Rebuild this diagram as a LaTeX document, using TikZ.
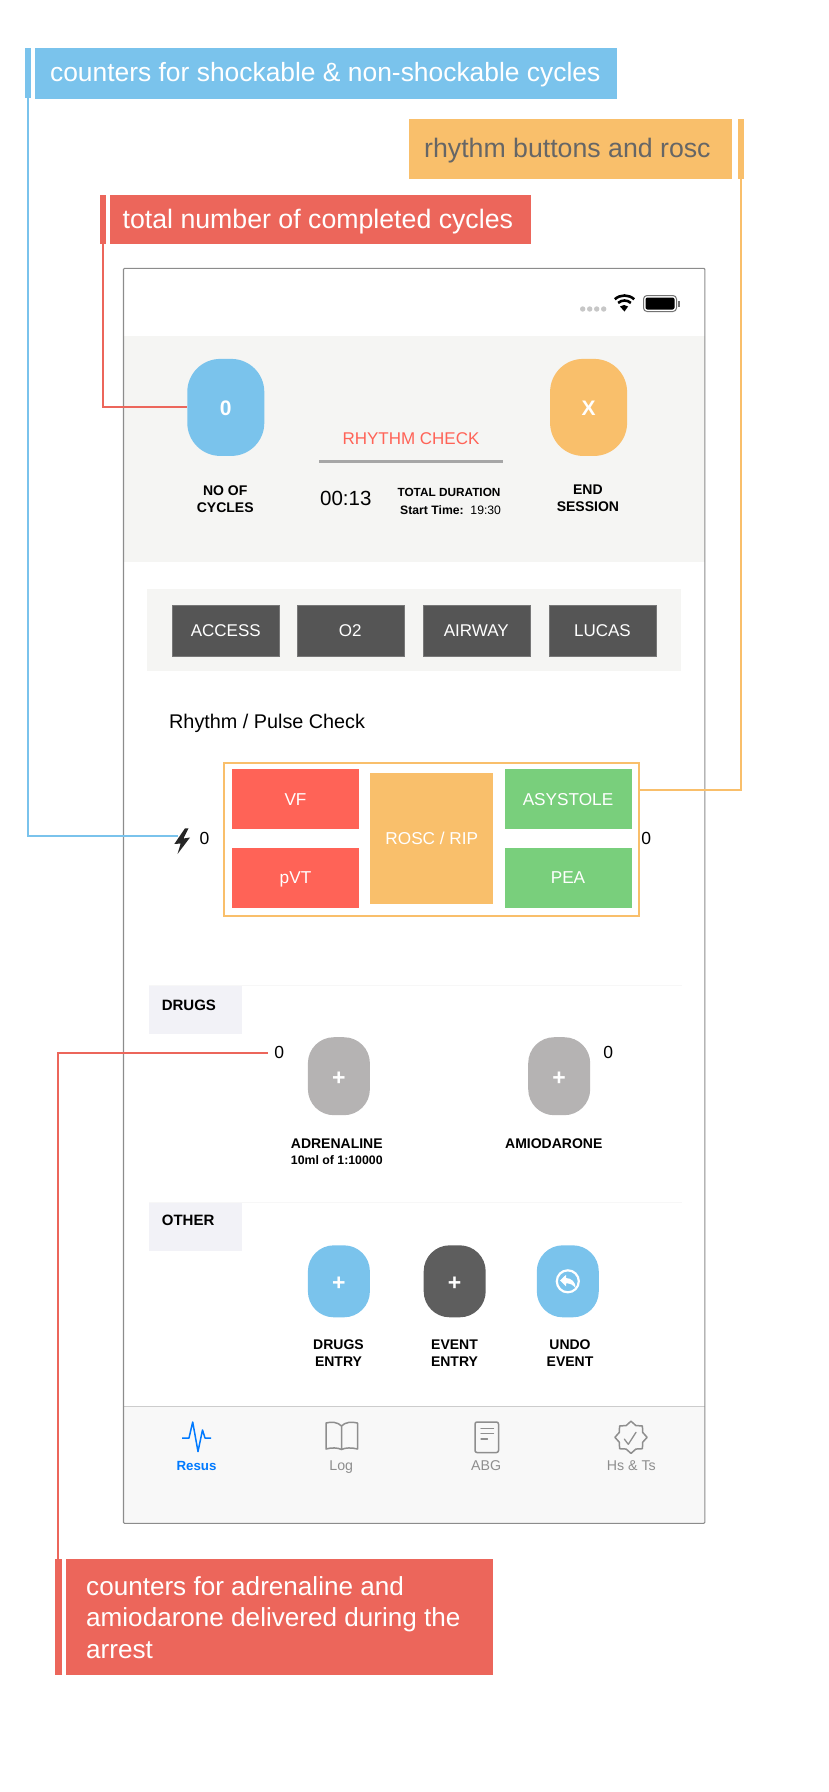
\documentclass[tikz,border=0pt]{standalone}
\usepackage{fontspec}
\setmainfont{Liberation Sans}
\usetikzlibrary{positioning,calc}
\definecolor{NoteBlue}{HTML}{7AC3EC}
\definecolor{NoteOrange}{HTML}{F9BF6B}
\definecolor{NoteRed}{HTML}{EC665B}
\definecolor{NoteGray}{HTML}{666666}
\definecolor{PanelBg}{HTML}{F5F5F3}
\definecolor{TabBg}{HTML}{F8F8F8}
\definecolor{TagBg}{HTML}{F2F2F7}
\definecolor{DarkBtn}{HTML}{555555}
\definecolor{EventBtn}{HTML}{5E5E5E}
\definecolor{PlusBtn}{HTML}{B5B3B3}
\definecolor{ShockRed}{HTML}{FF6357}
\definecolor{FlatGreen}{HTML}{79CF7C}
\definecolor{TabBlue}{HTML}{007AFF}
\definecolor{TabGray}{HTML}{8E8E8E}
\tikzset{
  noteBox/.style={anchor=north west, inner xsep=15pt, inner ysep=0pt, align=flush left,
    font=\fontsize{26.4}{31.5}\selectfont},
  noteBar/.style={anchor=north west, inner sep=0pt, minimum width=6.2pt},
  noteLine/.style={line width=2pt},
  roundBtn/.style={inner sep=0pt, text=white, rounded corners=26pt,
    minimum width=62pt, minimum height=78pt, text height=19pt, text depth=0pt,
    font=\fontsize{23}{23}\bfseries\selectfont},
  bigBtn/.style={roundBtn, rounded corners=33pt, minimum width=77pt, minimum height=97pt,
    text height=16.5pt, font=\fontsize{21}{21}\bfseries\selectfont},
  darkBox/.style={fill=DarkBtn, draw=DarkBtn!80!white, line width=0.6pt, text=white,
    minimum width=107pt, minimum height=51pt, inner sep=0pt,
    font=\fontsize{17}{20}\selectfont},
  rhythmBox/.style={inner sep=0pt, text=white, minimum width=127pt, minimum height=60pt,
    text height=12.4pt, text depth=0pt, font=\fontsize{17.2}{20}\selectfont},
  capLabel/.style={inner sep=0pt, align=center, font=\fontsize{14}{16.5}\bfseries\selectfont},
  tagLabel/.style={inner sep=0pt, anchor=west, font=\fontsize{15}{18}\bfseries\selectfont},
  countLabel/.style={inner sep=0pt, font=\fontsize{17.5}{20}\selectfont},
  tabLabel/.style={inner sep=0pt, text=TabGray, text height=10.2pt, text depth=0pt,
    font=\fontsize{14.2}{17}\selectfont},
  tabIcon/.style={draw=TabGray, line width=1.5pt, line join=round, line cap=round}
}
\begin{document}
\begin{tikzpicture}[x=1pt,y=-1pt]
  \useasboundingbox (0,0) rectangle (828,1792);

  \fill[PanelBg] (123,336) rectangle (705,562);
  \fill[PanelBg] (147,589.3) rectangle (681.4,670.7);
  \fill[TabBg] (123,1406.7) rectangle (705,1523);
  \draw[black!20, line width=1pt] (123,1406.7) -- (705,1406.7);
  \draw[black!3, line width=1pt] (149,985.3) -- (681.5,985.3);
  \draw[black!3, line width=1pt] (149,1202.3) -- (681.5,1202.3);
  \fill[TagBg] (149,986) rectangle (241.5,1034.3);
  \fill[TagBg] (149,1203.3) rectangle (241.5,1251.3);
  \draw[black!45, line width=1.1pt, rounded corners=1pt] (123.5,268.3) rectangle (704.8,1523.3);

  \node[noteBar, fill=NoteBlue, minimum height=50pt] (shockBar) at (24.8,48) {};
  \node[noteBox, fill=NoteBlue, text=white, text width=551.6pt, minimum height=51pt,
        text height=21.2pt, text depth=5.6pt] (shockNote) at (34.9,48)
    {counters for shockable \& non-shockable cycles};
  \node[noteBox, fill=NoteOrange, text=NoteGray, inner xsep=15.7pt, text width=292.3pt, minimum height=60pt,
        font=\fontsize{26.7}{31.5}\selectfont, text height=21.4pt, text depth=5.6pt] (rhythmNote) at (408.3,119)
    {rhythm buttons and rosc};
  \node[noteBar, fill=NoteOrange, minimum height=60pt] (rhythmBar) at (737.4,119) {};
  \node[noteBar, fill=NoteRed, minimum height=49pt] (cyclesBar) at (99.8,195) {};
  \node[noteBox, fill=NoteRed, text=white, inner xsep=12.6pt, text width=395.3pt, minimum height=49pt,
        font=\fontsize{26.7}{31.5}\selectfont, text height=23.4pt, text depth=5.6pt] (cyclesNote) at (109.9,195)
    {total number of completed cycles};
  \node[noteBar, fill=NoteRed, minimum width=7pt, minimum height=116pt] (arrestBar) at (55,1559) {};
  \node[noteBox, fill=NoteRed, text=white, inner xsep=20pt, text width=387pt, minimum height=116pt,
        font=\fontsize{26.1}{31.5}\selectfont] (arrestNote) at (66,1559)
    {counters for adrenaline and\\amiodarone delivered during the\\arrest};

  \foreach \i in {0,...,3}
    \fill[black!22] (582.7+7*\i,309) circle (2.7);
  \draw[black, line width=2.6pt] (624.5,310) ++(228:14.5) arc (228:312:14.5);
  \draw[black, line width=2.6pt] (624.5,310) ++(228:9.5) arc (228:312:9.5);
  \fill[black] (624.5,311.5) -- (620,306.5) arc (228:312:6) -- cycle;
  \draw[black!55, line width=1pt, rounded corners=3.5pt] (643.5,295.5) rectangle (676.5,311.5);
  \fill[black, rounded corners=2pt] (645.5,297.5) rectangle (674.5,309.5);
  \fill[black!55] (678,300.5) rectangle (680,306.5);

  \node[bigBtn, fill=NoteBlue] (cyclesBtn) at (225.8,407.4) {0};
  \node[bigBtn, fill=NoteOrange] (endBtn) at (588.6,407.4) {X};
  \node[capLabel] (cyclesCap) at (225.2,499) {NO OF\\CYCLES};
  \node[capLabel] (endCap) at (587.9,498) {END\\SESSION};
  \node[inner sep=0pt, text=ShockRed, font=\fontsize{17}{20}\selectfont] (checkTitle) at (411,438.3) {RHYTHM CHECK};
  \fill[black!35] (318.6,460) rectangle (503,463.3);
  \node[inner sep=0pt, font=\fontsize{20.5}{24}\selectfont] (clockText) at (345.8,498.5) {00:13};
  \node[inner sep=0pt, font=\fontsize{11.8}{14}\bfseries\selectfont] (durationText) at (449,492) {TOTAL DURATION};
  \node[inner sep=0pt, font=\fontsize{12.2}{14}\selectfont] (startText) at (450.6,510) {\textbf{Start Time:}\ \ 19:30};

  \foreach \name/\x/\txt in {access/225.8/ACCESS, oxygen/350.3/O2, airway/476.3/AIRWAY, lucas/602.4/LUCAS}
    \node[darkBox] (\name Btn) at (\x,630.5) {\txt};

  \node[inner sep=0pt, anchor=west, font=\fontsize{19.8}{24}\selectfont] (pulseTitle) at (169,723.7) {Rhythm / Pulse Check};
  \draw[NoteOrange, line width=2pt] (223.5,762.7) rectangle (638.7,916.3);
  \node[rhythmBox, fill=ShockRed] (vfBtn) at (295.5,799.3) {VF};
  \node[rhythmBox, fill=ShockRed] (pvtBtn) at (295.5,877.7) {pVT};
  \node[rhythmBox, fill=NoteOrange, minimum width=123pt, minimum height=131.6pt] (roscBtn) at (431.8,838.5) {ROSC / RIP};
  \node[rhythmBox, fill=FlatGreen] (asysBtn) at (568,799.3) {ASYSTOLE};
  \node[rhythmBox, fill=FlatGreen] (peaBtn) at (568,877.7) {PEA};
  \fill[black!85] (185,828.3) -- (174.3,844) -- (180.7,843.5) -- (177.5,854) -- (190,837.5) -- (183.5,838.5) -- (188.5,828.3) -- cycle;
  \node[countLabel] (shockCount) at (204.4,838.7) {0};
  \node[countLabel] (flatCount) at (646.3,838.7) {0};

  \node[tagLabel] (drugsTag) at (161.6,1005) {DRUGS};
  \node[countLabel] (adrCount) at (279.2,1052.7) {0};
  \node[countLabel] (amioCount) at (608.3,1052.7) {0};
  \node[roundBtn, fill=PlusBtn] (adrBtn) at (338.9,1076.2) {+};
  \node[roundBtn, fill=PlusBtn] (amioBtn) at (559.2,1076.2) {+};
  \node[capLabel] (adrCap) at (336.8,1143.3) {ADRENALINE};
  \node[inner sep=0pt, font=\fontsize{12.3}{14}\bfseries\selectfont] (adrDose) at (336.8,1160.3) {10ml of 1:10000};
  \node[capLabel] (amioCap) at (553.8,1143.3) {AMIODARONE};

  \node[tagLabel] (otherTag) at (161.7,1220.7) {OTHER};
  \node[roundBtn, fill=NoteBlue, minimum height=72pt] (drugsBtn) at (338.9,1281.3) {+};
  \node[roundBtn, fill=EventBtn, minimum height=72pt] (eventBtn) at (454.7,1281.3) {+};
  \node[roundBtn, fill=NoteBlue, minimum height=72pt] (undoBtn) at (567.8,1281.3) {};
  \draw[white, line width=2.2pt] (undoBtn.center) circle (11);
  \fill[white] (560,1280.5) -- (566,1274.8) -- (566,1278) .. controls (571,1278) and (576,1282) .. (575.7,1288.3) .. controls (573,1284.5) and (570,1283.3) .. (566,1283.3) -- (566,1286.3) -- cycle;
  \node[capLabel, font=\fontsize{14}{17}\bfseries\selectfont] (drugsCap) at (338.5,1353.5) {DRUGS\\ENTRY};
  \node[capLabel, font=\fontsize{14}{17}\bfseries\selectfont] (eventCap) at (454.5,1353.5) {EVENT\\ENTRY};
  \node[capLabel, font=\fontsize{14}{17}\bfseries\selectfont] (undoCap) at (570,1353.5) {UNDO\\EVENT};

  \draw[TabBlue, line width=1.5pt, line join=round] (182,1438) -- (189,1438) -- (192.7,1422) -- (198,1451.5) -- (202.5,1430) -- (205,1438) -- (211,1438);
  \node[tabLabel, text=TabBlue, font=\fontsize{13.3}{16}\bfseries\selectfont] (resusTab) at (196.5,1465.7) {Resus};
  \draw[tabIcon] (341.5,1426) .. controls (338,1422) and (331,1421.5) .. (326,1423) -- (326,1449) .. controls (331,1447.5) and (338,1447.5) .. (341.5,1449.5) .. controls (345,1447.5) and (352,1447.5) .. (357.5,1449) -- (357.5,1423) .. controls (352,1421.5) and (345,1422) .. (341.5,1426) -- cycle (341.5,1426) -- (341.5,1449.5);
  \node[tabLabel] (logTab) at (341.2,1465.7) {Log};
  \draw[tabIcon, rounded corners=2pt] (475,1422) rectangle (498.5,1452.5);
  \draw[tabIcon, line width=1.2pt] (481,1428.5) -- (493.5,1428.5) (481,1433.5) -- (493.5,1433.5) (481,1439) -- (487.5,1439);
  \node[tabLabel] (abgTab) at (486.2,1465.7) {ABG};
  \draw[tabIcon] plot[samples=17, domain=0:360, variable=\t] ({631+(14.4+1.7*cos(8*\t))*cos(\t)},{1437.3+(14.4+1.7*cos(8*\t))*sin(\t)});
  \draw[tabIcon, line width=1.3pt] (624.3,1439) -- (628.3,1444.3) -- (636,1432.3);
  \node[tabLabel] (hsTab) at (631.3,1465.7) {Hs \& Ts};

  \coordinate (boltTap) at (178,836);
  \coordinate (rhythmTap) at (638.7,789.7);
  \coordinate (adrTap) at (268.4,1052.7);
  \draw[NoteBlue, noteLine] (shockBar.south) |- (boltTap);
  \draw[NoteOrange, noteLine] (rhythmBar.south) |- (rhythmTap);
  \draw[NoteRed, noteLine] (cyclesBar.south) |- (cyclesBtn.west);
  \draw[NoteRed, noteLine] ([xshift=-0.8pt]arrestBar.north) |- (adrTap);
\end{tikzpicture}
\end{document}
